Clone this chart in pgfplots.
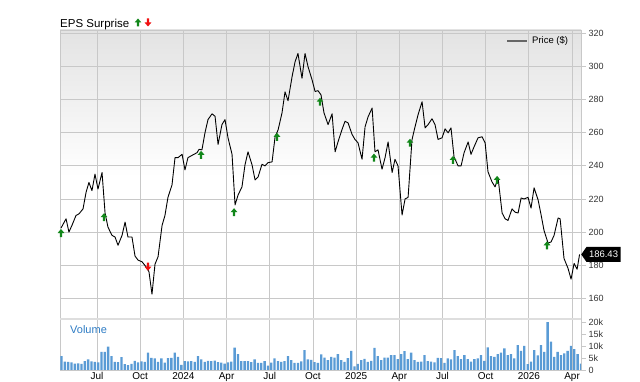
\documentclass[border=0pt]{standalone}
\usepackage{pgfplots}
\pgfplotsset{compat=1.18}
\usepackage{pgfplotstable}
\usepackage{fontspec}
\setmainfont{Liberation Sans}
\usetikzlibrary{shapes.symbols}
\definecolor{gridc}{HTML}{C8C8C8}
\definecolor{upg}{HTML}{12871A}
\definecolor{dnr}{HTML}{F01010}
\definecolor{volc}{HTML}{5A9BD5}
\definecolor{voltxt}{HTML}{2E7CC4}
\definecolor{lab}{HTML}{333333}

\pgfdeclareplotmark{uparr}{%
  \pgfpathmoveto{\pgfqpoint{-3.4pt}{0pt}}%
  \pgfpathlineto{\pgfqpoint{0pt}{4pt}}%
  \pgfpathlineto{\pgfqpoint{3.4pt}{0pt}}%
  \pgfpathlineto{\pgfqpoint{1.1pt}{0pt}}%
  \pgfpathlineto{\pgfqpoint{1.1pt}{-4pt}}%
  \pgfpathlineto{\pgfqpoint{-1.1pt}{-4pt}}%
  \pgfpathlineto{\pgfqpoint{-1.1pt}{0pt}}%
  \pgfpathclose\pgfusepathqfill}
\pgfdeclareplotmark{dnarr}{%
  \pgfpathmoveto{\pgfqpoint{-3.4pt}{0pt}}%
  \pgfpathlineto{\pgfqpoint{0pt}{-4pt}}%
  \pgfpathlineto{\pgfqpoint{3.4pt}{0pt}}%
  \pgfpathlineto{\pgfqpoint{1.1pt}{0pt}}%
  \pgfpathlineto{\pgfqpoint{1.1pt}{4pt}}%
  \pgfpathlineto{\pgfqpoint{-1.1pt}{4pt}}%
  \pgfpathlineto{\pgfqpoint{-1.1pt}{0pt}}%
  \pgfpathclose\pgfusepathqfill}

\pgfplotstableread{
m p
3.50 202.4
3.85 208
4.05 200
4.26 204
4.54 210
4.75 211
5.03 214
5.24 224
5.44 230
5.65 225
5.86 235
6.07 226
6.35 236
6.56 211.5
6.76 203
7.04 198
7.25 197
7.46 192
7.74 198
7.95 206
8.15 197
8.43 197
8.64 185.5
8.85 183
9.13 182
9.40 179
9.61 176
9.82 162.4
10.03 180.6
10.24 185
10.52 204
10.72 210
10.93 221
11.21 228.5
11.42 245
11.63 245
11.91 247
12.11 237.6
12.32 245
12.67 246.7
12.95 248
13.09 250
13.29 249.7
13.50 260
13.71 268
13.99 271.5
14.20 270
14.41 253
14.68 265
14.89 268
15.10 257
15.38 247
15.59 216.4
15.80 222.4
16.07 227.3
16.28 240.6
16.49 248.5
16.77 240.6
16.98 231.5
17.19 233.3
17.46 241
17.67 240
17.88 242
18.16 242.4
18.37 257.6
18.58 261.8
18.85 272
19.06 284.8
19.27 279.4
19.55 294
19.76 303
19.96 308
20.24 293
20.45 308
20.66 300
20.94 292
21.15 285
21.35 285.5
21.56 283
21.77 272
22.05 265
22.33 271.5
22.54 248.5
22.74 254.5
23.02 262
23.23 267
23.44 266
23.72 259
23.92 256
24.13 254
24.41 244
24.62 263.6
24.83 269.7
25.11 275
25.31 248.5
25.52 249.7
25.80 238
26.01 245
26.22 254.5
26.50 236
26.70 244
26.91 240
27.19 210.3
27.40 220
27.61 221
27.88 255.8
28.09 263.6
28.30 270.9
28.58 278.8
28.79 263
29.00 265
29.27 268.5
29.48 265
29.69 256
29.97 257
30.18 262.4
30.39 260
30.59 263
30.80 245.5
31.08 240
31.29 240
31.50 248
31.78 254.5
31.98 247
32.19 251.5
32.47 257
32.75 257.6
32.96 254
33.16 236.4
33.44 230.3
33.65 227.3
33.86 232.7
34.14 211.5
34.35 208
34.55 207
34.83 214
35.04 212
35.25 211.5
35.46 220.6
35.67 220
35.94 221
36.15 214.5
36.36 226.7
36.64 219.4
36.85 210.3
37.05 201
37.33 193.3
37.54 194
37.75 198
38.03 208.5
38.17 208
38.44 184
38.72 178
38.93 171.5
39.14 181
39.35 177.5
39.52 186.43
}\price

\pgfplotstableread{
m p
3.50 199.4
6.49 209
13.23 246.7
15.52 212
18.50 257.6
21.49 278.8
25.24 245
27.74 254
30.73 243.6
33.79 231.5
37.26 192
}\beats

\pgfplotstableread{
m p
9.54 179
}\misses

\pgfplotstableread{
i v
0 5.8
1 3.5
2 3.4
3 3.2
4 2.7
5 2.8
6 2.5
7 3.7
8 4.4
9 3.6
10 3.4
11 3.2
12 7.6
13 7.5
14 9.7
15 5.8
16 3.4
17 3.3
18 5.4
19 2.4
20 2.0
21 2.6
22 3.8
23 3.2
24 3.6
25 3.4
26 7.2
27 5.0
28 4.8
29 3.4
30 4.8
31 3.1
32 4.9
33 5.0
34 7.2
35 5.5
36 2.1
37 3.7
38 3.6
39 3.7
40 3.4
41 5.8
42 4.4
43 3.4
44 3.8
45 3.7
46 3.9
47 3.3
48 3.1
49 2.7
50 3.2
51 3.5
52 9.3
53 6.6
54 3.7
55 3.7
56 3.7
57 3.3
58 4.4
59 3.0
60 3.0
61 3.7
62 1.8
63 3.1
64 4.8
65 3.7
66 3.4
67 3.7
68 5.8
69 4.1
70 3.0
71 3.0
72 3.6
73 8.3
74 4.4
75 4.2
76 3.3
77 3.0
78 6.5
79 5.2
80 4.1
81 5.5
82 5.2
83 6.6
84 4.1
85 3.4
86 4.9
87 8.0
88 1.5
89 2.5
90 4.1
91 4.6
92 3.4
93 3.8
94 9.2
95 5.8
96 4.1
97 5.2
98 5.2
99 6.2
100 6.2
101 4.5
102 6.6
103 7.9
104 4.5
105 7.2
106 4.1
107 3.4
108 3.5
109 6.2
110 3.7
111 3.5
112 3.2
113 5.1
114 4.9
115 3.0
116 4.8
117 4.4
118 8.3
119 5.8
120 4.5
121 6.2
122 4.5
123 3.5
124 4.5
125 4.8
126 6.2
127 3.8
128 9.4
129 5.8
130 5.5
131 6.6
132 7.2
133 9.0
134 6.2
135 6.6
136 4.8
137 10.4
138 8.0
139 10.0
140 2.4
141 3.5
142 8.3
143 6.1
144 10.4
145 7.5
146 19.9
147 11.8
148 5.5
149 7.5
150 6.2
151 6.9
152 8.0
153 10.0
154 8.7
155 6.6
156 2.7
}\volume

\begin{document}
\begin{tikzpicture}[x=1pt,y=1pt]
\useasboundingbox (0,0) rectangle (640,382);
% background shading of the price panel
\shade[top color=black!11, bottom color=white] (60,352) rectangle (581,205);
% price panel
\begin{axis}[
  at={(60pt,64pt)}, anchor=south west, scale only axis,
  width=521pt, height=288pt,
  xmin=3.43, xmax=39.62, ymin=148, ymax=322.2,
  xtick={6,9,...,39}, xticklabels={},
  ytick={160,180,200,220,240,260,280,300,320},
  yticklabels={160,180,200,220,240,260,280,300,320},
  ytick pos=right, tick align=outside, major tick length=5pt,
  xtick style={draw=none},
  ytick style={gridc, line width=0.8pt},
  grid=major, grid style={gridc, line width=0.8pt},
  axis line style={gridc, line width=0.8pt},
  yticklabel style={font=\fontsize{9}{10}\selectfont, text=lab, xshift=-1pt},
  clip=false,
]
\addplot[black, line width=0.9pt, line join=round] table[x=m,y=p]{\price};
\addplot[only marks, mark=uparr, color=upg] table[x=m,y=p]{\beats};
\addplot[only marks, mark=dnarr, color=dnr] table[x=m,y=p]{\misses};
\coordinate (tag) at (axis cs:39.62,186.43);
\end{axis}
% volume panel
\begin{axis}[
  at={(60pt,12pt)}, anchor=south west, scale only axis,
  width=521pt, height=51pt,
  xmin=3.43, xmax=39.62, ymin=0, ymax=21.25,
  xtick={6,9,...,39},
  xticklabels={Jul,Oct,2024,Apr,Jul,Oct,2025,Apr,Jul,Oct,2026,Apr},
  ytick={0,5,10,15,20}, yticklabels={0,5k,10k,15k,20k},
  ytick pos=right, tick align=outside, major tick length=5pt,
  xtick style={draw=none},
  ytick style={gridc, line width=0.8pt},
  xmajorgrids, grid style={gridc, line width=0.8pt},
  axis line style={gridc, line width=0.8pt},
  yticklabel style={font=\fontsize{9}{10}\selectfont, text=lab, xshift=-1pt},
  xticklabel style={font=\fontsize{10}{11}\selectfont, text=black, inner sep=0pt, anchor=north, yshift=2.5pt},
]
\addplot[ybar, bar width=2.3pt, fill=volc, draw=none] table[x expr=3.533+0.2313*\thisrow{i}, y=v]{\volume};
\draw[line width=2pt, color=black!13] (rel axis cs:0,1) -- (rel axis cs:1,1);
\end{axis}
% title
\node[anchor=base west, inner sep=0pt, font=\fontsize{11.5}{12}\selectfont] at (60,354.7) {EPS Surprise};
\fill[upg] (134.6,359.5) -- (138,363.5) -- (141.4,359.5) -- (139.1,359.5) -- (139.1,355.5) -- (136.9,355.5) -- (136.9,359.5) -- cycle;
\fill[dnr] (144.6,359.5) -- (148,355.5) -- (151.4,359.5) -- (149.1,359.5) -- (149.1,363.5) -- (146.9,363.5) -- (146.9,359.5) -- cycle;
% legend
\draw[black!60, line width=1.5pt] (507,341) -- (527,341);
\node[anchor=west, inner sep=0pt, font=\fontsize{9.5}{10}\selectfont] at (532,341) {Price (\$)};
% volume label
\node[anchor=base west, inner sep=0pt, text=voltxt, font=\fontsize{11}{12}\selectfont] at (70,48) {Volume};
% last price tag
\node[signal, signal to=west, signal pointer angle=110, fill=black, text=white, inner xsep=2.5pt, inner ysep=1.5pt, minimum height=15pt, anchor=west, font=\fontsize{9.5}{10}\selectfont] at (tag) {186.43};
\end{tikzpicture}
\end{document}
